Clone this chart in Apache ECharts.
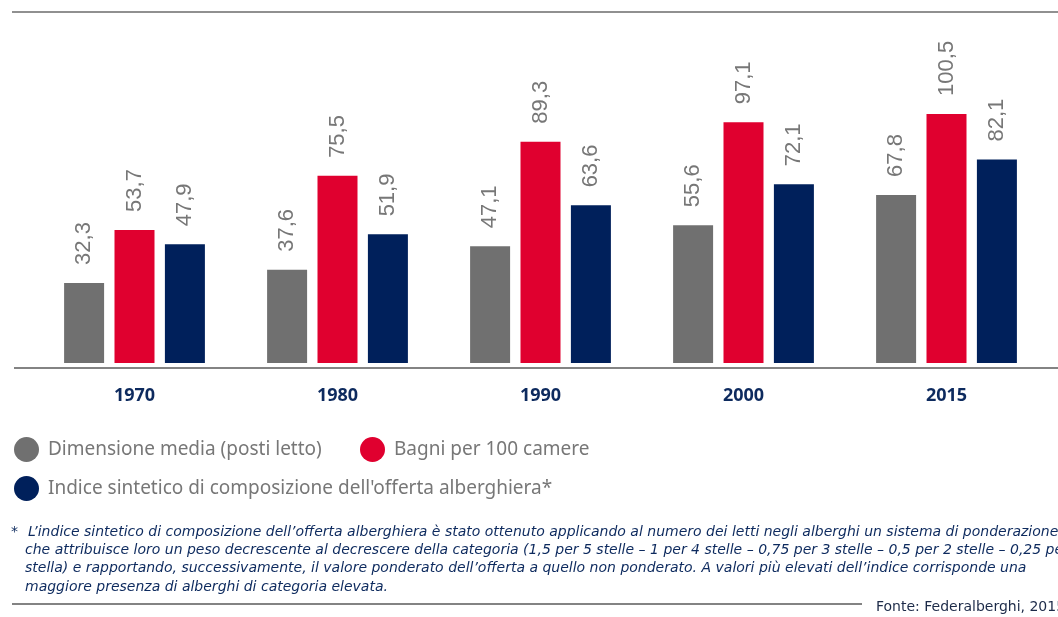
<!DOCTYPE html>
<html>
<head>
<meta charset="utf-8">
<script src="https://cdn.jsdelivr.net/npm/echarts@6/dist/echarts.min.js"></script>
<style>
  html, body { margin: 0; padding: 0; background: #fff; }
  #chart { width: 1058px; height: 617px; }
</style>
</head>
<body>
<div id="chart"></div>
<script>
// dati
const years = ['1970', '1980', '1990', '2000', '2015']
const dimensioneMedia = [32.3, 37.6, 47.1, 55.6, 67.8]
const bagniPer100 = [53.7, 75.5, 89.3, 97.1, 100.5]
const indiceSintetico = [47.9, 51.9, 63.6, 72.1, 82.1]
const seriesNames = [
  'Dimensione media (posti letto)',
  'Bagni per 100 camere',
  "Indice sintetico di composizione dell'offerta alberghiera*"
]
const footnoteLines = [
  'L’indice sintetico di composizione dell’offerta alberghiera è stato ottenuto applicando al numero dei letti negli alberghi un sistema di ponderazione',
  'che attribuisce loro un peso decrescente al decrescere della categoria (1,5 per 5 stelle – 1 per 4 stelle – 0,75 per 3 stelle – 0,5 per 2 stelle – 0,25 per 1',
  'stella) e rapportando, successivamente, il valore ponderato dell’offerta a quello non ponderato. A valori più elevati dell’indice corrisponde una',
  'maggiore presenza di alberghi di categoria elevata.'
]
const source = 'Fonte: Federalberghi, 2015'

const colors = ['#707070', '#e0002f', '#00205b']
const navy = '#0d2a5e'

const chart = echarts.init(document.getElementById('chart'), null, { renderer: 'canvas' })

const barLabel = {
  show: true,
  position: 'top',
  rotate: 90,
  align: 'left',
  verticalAlign: 'middle',
  distance: 18,
  color: '#777777',
  fontFamily: 'Liberation Sans',
  fontSize: 22,
  formatter: (p) => String(p.value).replace('.', ',')
}

const makeSeries = (name, data) => {
  return {
    name: name,
    type: 'bar',
    data: data,
    barWidth: 40,
    barGap: '26%',
    label: barLabel,
    emphasis: { disabled: true }
  }
}

const legendBase = {
  orient: 'horizontal',
  icon: 'circle',
  padding: 0,
  itemWidth: 25,
  itemHeight: 25,
  itemGap: 0,
  textStyle: {
    color: '#777777',
    fontFamily: 'Noto Sans',
    fontSize: 19,
    padding: [0, 0, 0, 4]
  },
  selectedMode: false
}

const graphics = [
  { type: 'line', shape: { x1: 12, y1: 12, x2: 1058, y2: 12 }, style: { stroke: '#6b6b6b', lineWidth: 1.5 } },
  { type: 'line', shape: { x1: 14, y1: 368, x2: 1058, y2: 368 }, style: { stroke: '#5a5a5a', lineWidth: 1.5 } },
  { type: 'line', shape: { x1: 12, y1: 604, x2: 862, y2: 604 }, style: { stroke: '#5a5a5a', lineWidth: 1.5 } },
  {
    type: 'text', left: 11, top: 525,
    style: { text: '*', fill: navy, font: 'italic 14px "DejaVu Sans"' }
  },
  {
    type: 'text', left: 876, top: 600,
    style: { text: source, fill: '#1c2a48', font: '14px "DejaVu Sans"' }
  }
]
footnoteLines.forEach((line, i) => {
  graphics.push({
    type: 'text',
    left: i === 0 ? 28 : 25,
    top: 525 + i * 18.3,
    style: { text: line, fill: navy, font: 'italic 14px "DejaVu Sans"' }
  })
})

const option = {
  animation: false,
  color: colors,
  grid: {
    left: 33,
    right: 10,
    top: 16,
    bottom: 254,
    containLabel: false
  },
  legend: [
    Object.assign({}, legendBase, { left: 14, top: 437, data: [seriesNames[0]] }),
    Object.assign({}, legendBase, { left: 360, top: 437, data: [seriesNames[1]] }),
    Object.assign({}, legendBase, { left: 14, top: 476, data: [seriesNames[2]] })
  ],
  xAxis: {
    type: 'category',
    data: years,
    axisLine: { show: false },
    axisTick: { show: false },
    axisLabel: {
      margin: 24,
      color: navy,
      fontFamily: 'Noto Sans',
      fontWeight: 'bold',
      fontSize: 18
    }
  },
  yAxis: {
    type: 'value',
    min: 0,
    max: 140,
    show: false,
    splitLine: { show: false }
  },
  series: [
    makeSeries(seriesNames[0], dimensioneMedia),
    makeSeries(seriesNames[1], bagniPer100),
    makeSeries(seriesNames[2], indiceSintetico)
  ],
  graphic: graphics
}

chart.setOption(option)
</script>
</body>
</html>
